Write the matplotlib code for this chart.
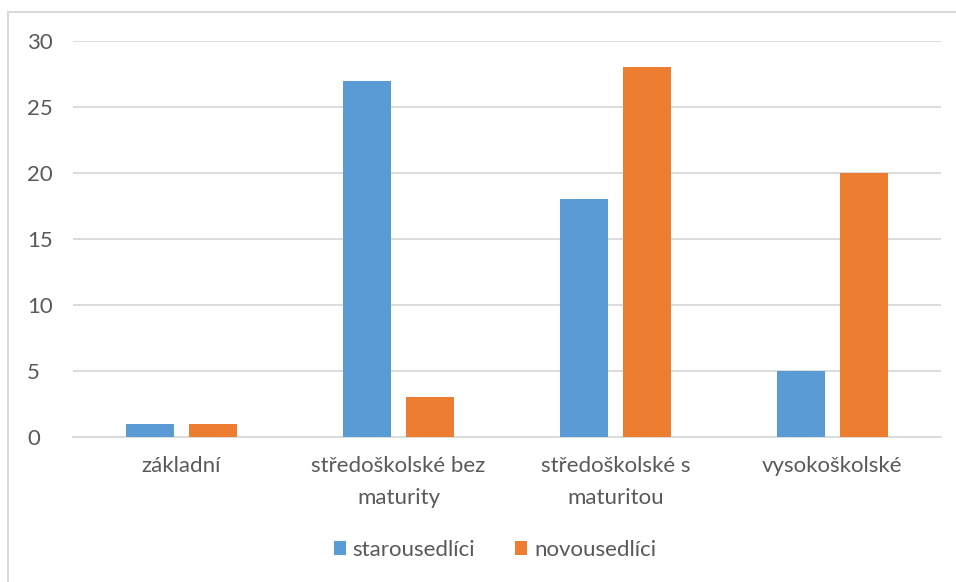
import matplotlib.pyplot as plt
import numpy as np
from matplotlib.patches import Rectangle

categories = ["základní", "středoškolské bez\nmaturity", "středoškolské s\nmaturitou", "vysokoškolské"]
starousedlici = [1, 27, 18, 5]
novousedlici = [1, 3, 28, 20]
series_names = ["starousedlíci", "novousedlíci"]
yticks = [0, 5, 10, 15, 20, 25, 30]

BLUE = "#5B9BD5"
ORANGE = "#ED7D31"
GRID = "#D9D9D9"
TEXT = "#595959"

plt.rcParams["font.family"] = ["Lato", "DejaVu Sans"]

W, H = 956, 582
fig = plt.figure(figsize=(W / 100, H / 100), dpi=100)
ax = fig.add_axes([73 / W, 1 - 437 / H, (941 - 73) / W, (437 - 41) / H])

# ramecek grafu (viditelna jen horni a leva hrana)
fig.patches.append(Rectangle((8 / W, -0.1), 1.2, 1.1 - 12 / H, transform=fig.transFigure,
                             fill=False, edgecolor=GRID, linewidth=1.5))

x = np.arange(len(categories))
width = 0.222
offset = 0.145
ax.bar(x - offset, starousedlici, width=width, color=BLUE, label=series_names[0], zorder=3)
ax.bar(x + offset, novousedlici, width=width, color=ORANGE, label=series_names[1], zorder=3)

ax.set_xlim(-0.5, len(categories) - 0.5)
ax.set_ylim(0, 30)
ax.set_yticks(yticks)
ax.yaxis.grid(True, color=GRID, linewidth=1.3, zorder=0)
ax.set_axisbelow(True)
for side in ("top", "right", "left"):
    ax.spines[side].set_visible(False)
ax.spines["bottom"].set_color(GRID)
ax.spines["bottom"].set_linewidth(1.3)
ax.tick_params(axis="both", length=0, colors=TEXT, labelsize=16)
ax.tick_params(axis="y", pad=33)
ax.tick_params(axis="x", pad=14)
ax.set_xticks(x)
ax.set_xticklabels(categories, linespacing=1.75)
for lbl in ax.get_yticklabels():
    lbl.set_horizontalalignment("left")

fig.legend(loc="center", bbox_to_anchor=(495 / W, 1 - 550 / H), ncol=2, frameon=False,
           fontsize=16, handlelength=0.55, handleheight=0.55, handletextpad=0.3,
           columnspacing=1.8, labelcolor=TEXT)

fig.savefig("out.png", dpi=100)
